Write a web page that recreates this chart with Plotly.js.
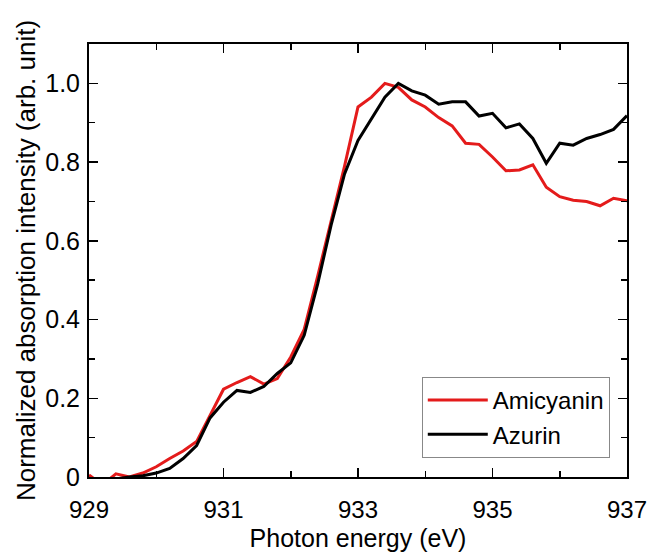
<!DOCTYPE html>
<html>
<head>
<meta charset="utf-8">
<script src="https://cdn.plot.ly/plotly-3.0.1.min.js"></script>
<style>html,body{margin:0;padding:0;background:#fff;}#chart{width:654px;height:560px;}</style>
</head>
<body>
<div id="chart"></div>
<script>
const energy = [929.0,929.2,929.4,929.6,929.8,930.0,930.2,930.4,930.6,930.8,
  931.0,931.2,931.4,931.6,931.8,932.0,932.2,932.4,932.6,932.8,
  933.0,933.2,933.4,933.6,933.8,934.0,934.2,934.4,934.6,934.8,
  935.0,935.2,935.4,935.6,935.8,936.0,936.2,936.4,936.6,936.8,937.0];
const amicyanin = [0.005,-0.02,0.008,0.0,0.01,0.026,0.047,0.066,0.09,0.155,
  0.223,0.24,0.255,0.236,0.25,0.305,0.375,0.51,0.65,0.79,
  0.94,0.965,1.0,0.99,0.958,0.94,0.913,0.892,0.848,0.845,
  0.813,0.778,0.78,0.793,0.736,0.712,0.703,0.70,0.689,0.708,0.702];
const azurin = [-0.01,-0.01,-0.005,0.0,0.003,0.01,0.022,0.047,0.08,0.15,
  0.19,0.22,0.215,0.23,0.263,0.29,0.36,0.49,0.64,0.77,
  0.855,0.91,0.965,1.0,0.981,0.97,0.947,0.953,0.953,0.917,
  0.924,0.887,0.897,0.86,0.797,0.848,0.843,0.86,0.87,0.883,0.918];
const xTicks = [929,931,933,935,937];
const yTicks = [0,0.2,0.4,0.6,0.8,1.0];
const yTickText = ["0","0.2","0.4","0.6","0.8","1.0"];

const traces = [
  {x: energy, y: amicyanin, name: "Amicyanin", type: "scatter", mode: "lines",
   line: {color: "#e41b1b", width: 3}},
  {x: energy, y: azurin, name: "Azurin", type: "scatter", mode: "lines",
   line: {color: "#000000", width: 3}}
];
const layout = {
  width: 654, height: 560,
  margin: {l: 89, r: 27, t: 44, b: 83},
  paper_bgcolor: "#fff", plot_bgcolor: "#fff",
  font: {family: "Liberation Sans, Arial, sans-serif", color: "#000"},
  showlegend: true,
  legend: {x: 0.968, xanchor: "right", y: 0.044, yanchor: "bottom",
    bordercolor: "#888", borderwidth: 1, bgcolor: "#fff",
    font: {size: 24, color: "#000"}, itemwidth: 60, tracegroupgap: 0},
  xaxis: {
    range: [929, 937], tickvals: xTicks, ticks: "inside", ticklen: 9, tickwidth: 1.5,
    tickcolor: "#000", showline: true, linecolor: "#000", linewidth: 2, mirror: "allticks",
    showgrid: false, zeroline: false, ticklabelstandoff: 10,
    tickfont: {size: 24, color: "#000"},
    minor: {dtick: 1, tick0: 930, ticks: "inside", ticklen: 6, tickwidth: 1.5, tickcolor: "#000", showgrid: false},
    title: {text: "Photon energy (eV)", font: {size: 25, color: "#000"}, standoff: 8}
  },
  yaxis: {
    range: [0, 1.1], tickvals: yTicks, ticktext: yTickText, ticks: "inside", ticklen: 9, tickwidth: 1.5,
    tickcolor: "#000", showline: true, linecolor: "#000", linewidth: 2, mirror: "allticks",
    showgrid: false, zeroline: false, ticklabelstandoff: 2,
    tickfont: {size: 25, color: "#000"},
    minor: {dtick: 0.1, tick0: 0.1, ticks: "inside", ticklen: 6, tickwidth: 1.5, tickcolor: "#000", showgrid: false},
    title: {text: "Normalized absorption intensity (arb. unit)", font: {size: 26, color: "#000"}, standoff: 2}
  }
};
Plotly.newPlot("chart", traces, layout, {displayModeBar: false, staticPlot: true});
</script>
</body>
</html>
